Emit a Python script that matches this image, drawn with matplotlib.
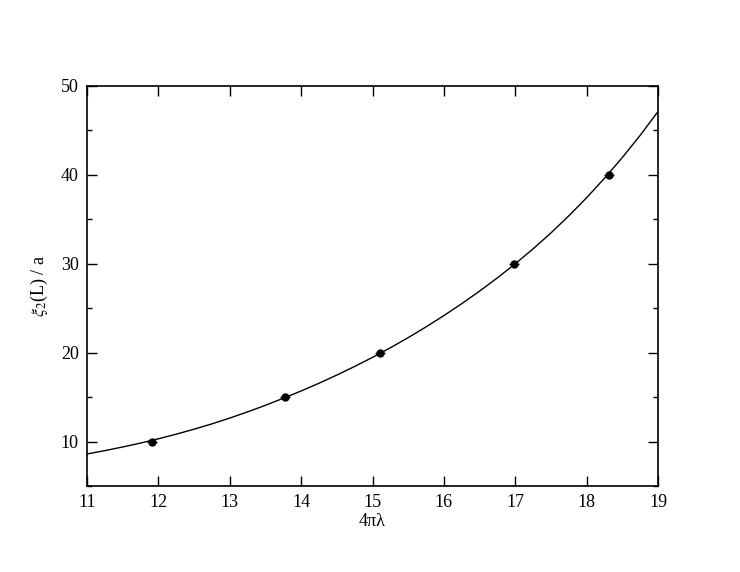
import numpy as np
import matplotlib
matplotlib.use("Agg")
import matplotlib.pyplot as plt
from matplotlib.ticker import MultipleLocator

plt.rcParams['font.family'] = ['Liberation Serif', 'DejaVu Serif']
plt.rcParams['mathtext.fontset'] = 'stix'

# measured points (4*pi*lambda, xi_2(L)/a) with horizontal error bars
x_pts = [11.91, 13.77, 15.10, 16.98, 18.31]
y_pts = [10.0, 15.0, 20.0, 30.0, 40.0]
x_err = [0.07, 0.07, 0.07, 0.07, 0.07]

# fitted curve
x_fit = [11.0, 11.25, 11.5, 11.75, 12.0, 12.25, 12.5, 12.75, 13.0, 13.25,
         13.5, 13.75, 14.0, 14.25, 14.5, 14.75, 15.0, 15.25, 15.5, 15.75,
         16.0, 16.25, 16.5, 16.75, 17.0, 17.25, 17.5, 17.75, 18.0, 18.25,
         18.5, 18.75, 19.0]
y_fit = [8.60, 8.98, 9.39, 9.83, 10.31, 10.83, 11.39, 11.99, 12.64, 13.34,
         14.08, 14.87, 15.69, 16.56, 17.48, 18.45, 19.47, 20.55, 21.69, 22.90,
         24.17, 25.51, 26.92, 28.42, 30.00, 31.68, 33.47, 35.39, 37.43, 39.62,
         41.95, 44.45, 47.12]

fig = plt.figure(figsize=(7.4, 5.72), dpi=100)
ax = fig.add_axes([87/740, 1 - 486/572, (658 - 87)/740, (486 - 86)/572])

ax.plot(x_fit, y_fit, color='black', lw=1.0)
ax.errorbar(x_pts, y_pts, xerr=x_err, fmt='o', color='black',
            markersize=5, elinewidth=1.0, capsize=0)

ax.set_xlim(11, 19)
ax.set_ylim(5, 50)
ax.xaxis.set_major_locator(MultipleLocator(1))
ax.yaxis.set_major_locator(MultipleLocator(10))
ax.yaxis.set_minor_locator(MultipleLocator(5))
ax.tick_params(which='both', direction='in', top=True, right=True,
               labelsize=13, width=1.0)
ax.tick_params(which='major', length=7.5, pad=6)
ax.tick_params(which='minor', length=3.8)
for s in ax.spines.values():
    s.set_linewidth(1.2)

ax.set_xlabel('4πλ', fontsize=13, labelpad=1)
ax.set_ylabel(r'$\xi_2$(L) / a', fontsize=13, labelpad=8)

fig.savefig('out.png', dpi=100)
